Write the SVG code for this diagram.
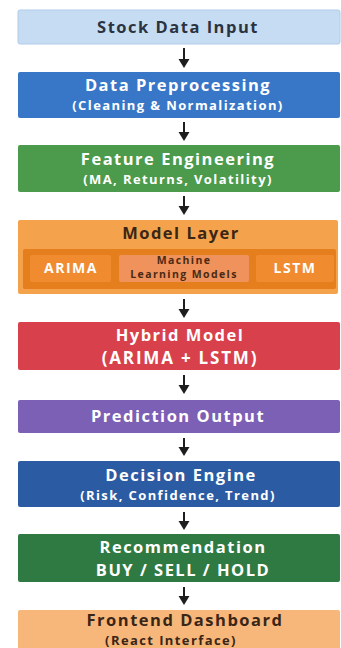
<svg xmlns="http://www.w3.org/2000/svg" width="341" height="648" viewBox="0 0 341 648">
<defs>
<style>
text{font-family:"Open Sans","Noto Sans","Liberation Sans",sans-serif;font-weight:700;text-anchor:middle}
.t{font-size:16.5px;letter-spacing:1.5px;fill:#fff}
.s{font-size:13px;letter-spacing:1.4px;fill:#fff}
.b{font-size:17px;letter-spacing:1.8px;fill:#fff}
.m{font-size:14px;letter-spacing:1.5px;fill:#fff}
.ml{font-size:10.5px;letter-spacing:1.4px;fill:#4a2a14}
.dk{fill:#2b3340}
.br{fill:#3a2616}
.arr line{stroke:#1e1e1e;stroke-width:2}
.arr path{fill:#1e1e1e}
</style>
</defs>
<rect width="341" height="648" fill="#ffffff"/>

<g id="stock-data-input">
<rect x="18" y="10" width="322" height="34" rx="2" fill="#c6dcf3" stroke="#b0cbe9"/>
<text class="t dk" x="178" y="33">Stock Data Input</text>
</g>

<g id="data-preprocessing">
<rect x="18" y="72" width="322" height="46" rx="2" fill="#3877c7"/>
<text class="t" x="178" y="91">Data Preprocessing</text>
<text class="s" x="178" y="110">(Cleaning &amp; Normalization)</text>
</g>

<g id="feature-engineering">
<rect x="18" y="145" width="322" height="47" rx="2" fill="#4c9a4b"/>
<text class="t" x="178" y="165">Feature Engineering</text>
<text class="s" x="178" y="184">(MA, Returns, Volatility)</text>
</g>

<g id="model-layer">
<rect x="18" y="220" width="320" height="74" rx="2" fill="#f5a24c"/>
<text class="t br" x="181" y="239">Model Layer</text>
<rect x="23" y="249" width="313" height="40" rx="2" fill="#e57f1d"/>
<g id="arima">
<rect x="30" y="255" width="81" height="27" rx="2" fill="#f08b2f"/>
<text class="m" x="71" y="273">ARIMA</text>
</g>
<g id="ml-models">
<rect x="119" y="255" width="130" height="27" rx="2" fill="#f0925b"/>
<text class="ml" x="184" y="263.5">Machine</text>
<text class="ml" x="184" y="277.5">Learning Models</text>
</g>
<g id="lstm">
<rect x="256" y="255" width="78" height="27" rx="2" fill="#f08b2f"/>
<text class="m" x="295" y="273">LSTM</text>
</g>
</g>

<g id="hybrid-model">
<rect x="18" y="322" width="322" height="48" rx="2" fill="#d8404b"/>
<text class="t" x="180" y="341">Hybrid Model</text>
<text class="b" x="180" y="364">(ARIMA + LSTM)</text>
</g>

<g id="prediction-output">
<rect x="18" y="400" width="322" height="33" rx="2" fill="#7b60b5"/>
<text class="t" x="178" y="422">Prediction Output</text>
</g>

<g id="decision-engine">
<rect x="18" y="461" width="322" height="46" rx="2" fill="#2b5ba3"/>
<text class="t" x="181" y="481">Decision Engine</text>
<text class="s" x="178" y="500">(Risk, Confidence, Trend)</text>
</g>

<g id="recommendation">
<rect x="18" y="534" width="322" height="48" rx="2" fill="#2f7a42"/>
<text class="t" x="183" y="553">Recommendation</text>
<text class="t" x="183" y="576">BUY / SELL / HOLD</text>
</g>

<g id="frontend-dashboard">
<rect x="18" y="610" width="322" height="45" rx="2" fill="#f7b77b"/>
<text class="t br" x="185" y="626">Frontend Dashboard</text>
<text class="s br" x="171" y="645">(React Interface)</text>
</g>

<g id="connectors" class="arr">
<line x1="184" y1="48" x2="184" y2="60"/><path d="M178.5,59 L189.5,59 L184,68 Z"/>
<line x1="184" y1="122" x2="184" y2="133"/><path d="M178.5,132 L189.5,132 L184,141 Z"/>
<line x1="184" y1="196" x2="184" y2="207"/><path d="M178.5,206 L189.5,206 L184,215 Z"/>
<line x1="184" y1="299" x2="184" y2="310"/><path d="M178.5,309 L189.5,309 L184,318 Z"/>
<line x1="184" y1="375" x2="184" y2="386"/><path d="M178.5,385 L189.5,385 L184,394 Z"/>
<line x1="184" y1="438" x2="184" y2="448"/><path d="M178.5,447 L189.5,447 L184,456 Z"/>
<line x1="184" y1="512" x2="184" y2="522"/><path d="M178.5,521 L189.5,521 L184,530 Z"/>
<line x1="184" y1="587" x2="184" y2="597"/><path d="M178.5,596 L189.5,596 L184,605 Z"/>
</g>
</svg>
